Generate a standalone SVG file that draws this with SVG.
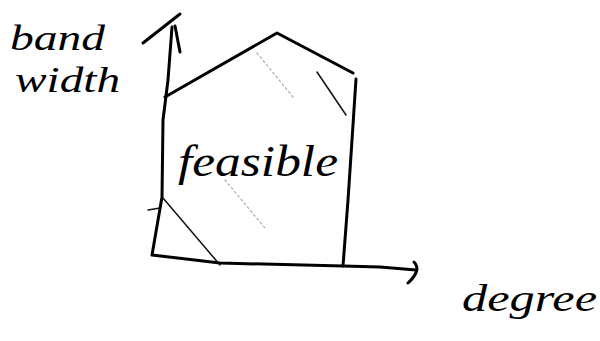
<svg xmlns="http://www.w3.org/2000/svg" width="600" height="341" viewBox="0 0 600 341">
<style>
.ink{fill:none;stroke:#000;stroke-width:3;stroke-linecap:round;stroke-linejoin:round}
.thin{fill:none;stroke:#111;stroke-width:1.5;stroke-linecap:round}
.faint{fill:none;stroke:#aaa;stroke-width:1.2;stroke-dasharray:2 3;stroke-linecap:round}
.hand{font-family:"Liberation Serif","DejaVu Serif",serif;font-style:italic;fill:#000}
</style>
<rect width="600" height="341" fill="#fff"/>
<g id="axes">
<path class="ink" d="M172,27 L168,80 L163,120 L162,197 L152,255 L220,263 L343,266 L380,267 L416,270"/>
<path class="ink" d="M143,43 L180,14"/>
<path class="ink" d="M175,26 L180,52"/>
<path class="ink" d="M414,262 Q422,270 408,283"/>
</g>
<g id="feasible-region">
<path class="ink" d="M165,97 L277,33 L353,73"/>
<path class="ink" d="M356,79 L352,140 L348,200 L343,266"/>
</g>
<g id="hatching">
<path class="faint" d="M257,53 L293,97"/>
<path class="thin" d="M317,72 L346,115"/>
<path class="faint" d="M225,180 L265,228"/>
<path class="thin" d="M163,198 L220,265"/>
<path class="thin" d="M148,210 L160,208"/>
</g>
<g id="labels">
<text class="hand" x="10" y="50" font-size="36" textLength="95" lengthAdjust="spacingAndGlyphs">band</text>
<text class="hand" x="15" y="92" font-size="36" textLength="105" lengthAdjust="spacingAndGlyphs">width</text>
<text class="hand" x="178" y="176" font-size="44" textLength="160" lengthAdjust="spacingAndGlyphs">feasible</text>
<text class="hand" x="462" y="311" font-size="38" textLength="135" lengthAdjust="spacingAndGlyphs">degree</text>
</g>
</svg>
